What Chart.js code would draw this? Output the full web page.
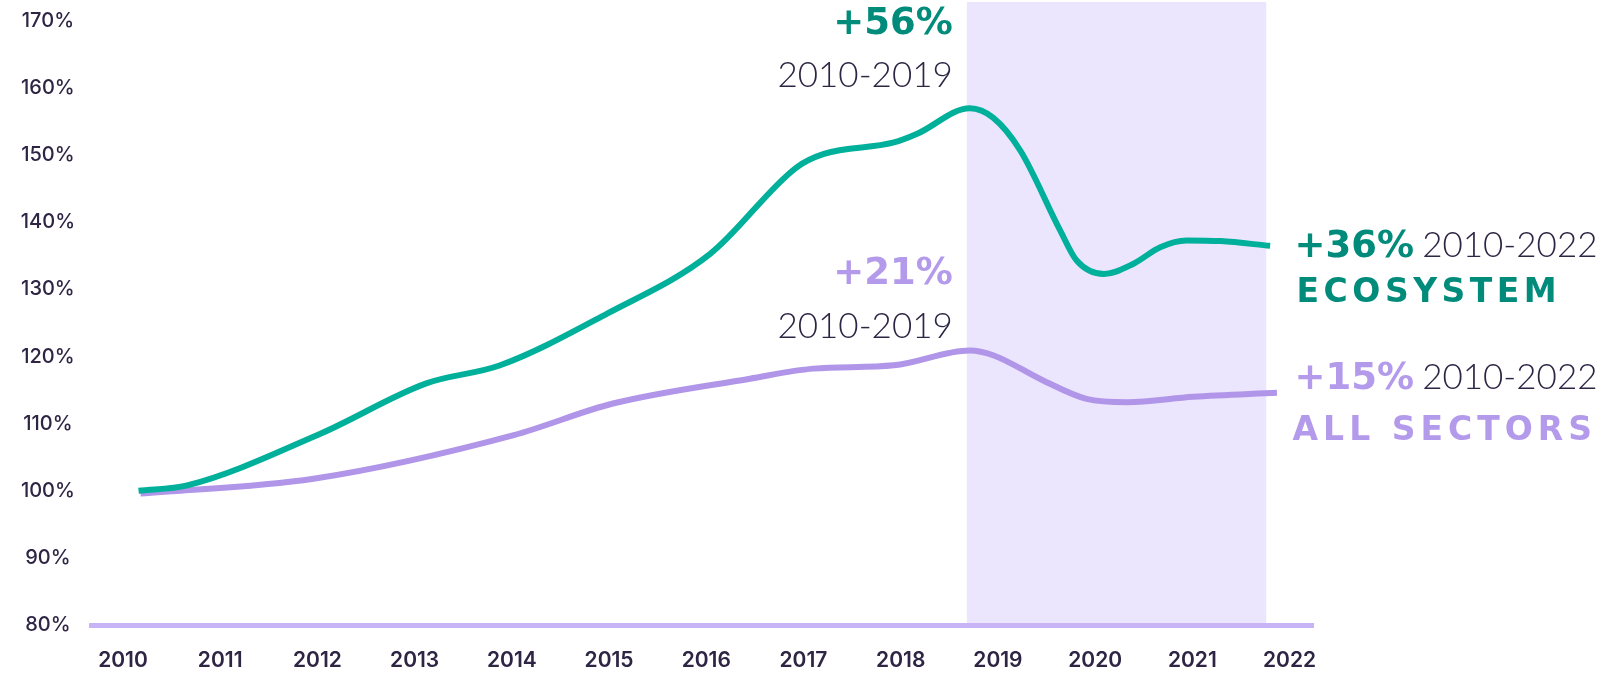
<!DOCTYPE html>
<html>
<head>
<meta charset="utf-8">
<script src="https://cdn.jsdelivr.net/npm/chart.js@4.4.1/dist/chart.umd.min.js"></script>
<style>
  html, body { margin: 0; padding: 0; background: #ffffff; }
  #wrap { width: 1614px; height: 677px; position: relative; }
</style>
</head>
<body>
<div id="wrap"><canvas id="c" width="1614" height="677"></canvas></div>
<script>
// ---- data ----
const yearTicks = [2010, 2011, 2012, 2013, 2014, 2015, 2016, 2017, 2018, 2019, 2020, 2021, 2022];
const percentTicks = [80, 90, 100, 110, 120, 130, 140, 150, 160, 170];

const ecosystemYears  = [2010.16, 2010.66, 2012.03, 2013.12, 2013.88, 2014.98, 2016.04, 2016.93, 2017.21, 2017.93, 2018.17, 2018.71, 2018.95, 2019.23, 2019.64, 2019.81, 2020.09, 2020.39, 2020.67, 2020.94, 2021.29, 2021.80];
const ecosystemValues = [100.0,   100.8,   108.5,   116.0,   118.7,   126.4,   135.3,   148.2,   150.2,   151.9,   153.2,   157.0,   155.6,   150.7,   138.8,   134.3,   132.3,   133.8,   136.3,   137.3,   137.2,   136.5];

const allSectorsYears  = [2010.18, 2011.96, 2014.02, 2015.04, 2016.45, 2017.10, 2017.93, 2018.71, 2018.95, 2019.47, 2019.91, 2020.33, 2021.01, 2021.87];
const allSectorsValues = [99.6,    101.8,   108.3,   113.0,   116.7,   118.2,   118.7,   120.9,   120.2,   116.4,   113.7,   113.2,   114.0,   114.6];

const shadedPeriod = [2018.68, 2021.76];

const notes = {
  ecoPeak: ['+56%', '2010-2019'],
  allPeak: ['+21%', '2010-2019'],
  ecoEnd: ['+36%', '2010-2022', 'ECOSYSTEM'],
  allEnd: ['+15%', '2010-2022', 'ALL SECTORS']
};

// ---- styles ----
const TEAL = '#00b09b', TEAL_TEXT = '#008b7b';
const LILAC = '#b095e8', LILAC_TEXT = '#b39aeb';
const DARK = '#2e2544';
const BOLD = 'bold 37px "DejaVu Sans"';
const LABEL = 'bold 33px "DejaVu Sans"';
const THIN = '300 35px Lato';

function pts(xs, ys) { return xs.map((x, i) => ({ x: x, y: ys[i] })); }

function txt(ctx, s, x, y, font, color, align, spacing) {
  ctx.save();
  ctx.font = font;
  ctx.fillStyle = color;
  ctx.textAlign = align || 'left';
  ctx.textBaseline = 'alphabetic';
  ctx.letterSpacing = (spacing || 0) + 'px';
  ctx.fillText(s, x, y);
  const w = ctx.measureText(s).width;
  ctx.restore();
  return w;
}

const decor = {
  id: 'decor',
  beforeDraw(chart) {
    const { ctx, chartArea, scales: { x } } = chart;
    const x0 = x.getPixelForValue(shadedPeriod[0]);
    const x1 = x.getPixelForValue(shadedPeriod[1]);
    ctx.save();
    ctx.fillStyle = '#ebe6fd';
    ctx.fillRect(x0, chartArea.top, x1 - x0, chartArea.bottom - chartArea.top);
    ctx.restore();
  },
  afterDraw(chart) {
    const { ctx, scales: { x, y } } = chart;
    // peak notes, right-aligned just left of the shaded band
    const rx = x.getPixelForValue(shadedPeriod[0]) - 14;
    const ecoPeakY = y.getPixelForValue(Math.max(...ecosystemValues));
    const allPeakY = y.getPixelForValue(Math.max(...allSectorsValues));
    txt(ctx, notes.ecoPeak[0], rx, ecoPeakY - 74, BOLD, TEAL_TEXT, 'right');
    txt(ctx, notes.ecoPeak[1], rx, ecoPeakY - 21, THIN, DARK, 'right');
    txt(ctx, notes.allPeak[0], rx, allPeakY - 67, BOLD, LILAC_TEXT, 'right');
    txt(ctx, notes.allPeak[1], rx, allPeakY - 13, THIN, DARK, 'right');

    // end notes
    const lx = x.getPixelForValue(2022) + 5;
    const ecoEndY = y.getPixelForValue(ecosystemValues[ecosystemValues.length - 1]);
    const allEndY = y.getPixelForValue(allSectorsValues[allSectorsValues.length - 1]);
    let w = txt(ctx, notes.ecoEnd[0], lx, ecoEndY + 11, BOLD, TEAL_TEXT, 'left');
    txt(ctx, notes.ecoEnd[1], lx + w + 8, ecoEndY + 11, THIN, DARK, 'left');
    txt(ctx, notes.ecoEnd[2], lx + 2, ecoEndY + 56, LABEL, TEAL_TEXT, 'left', 4.5);
    w = txt(ctx, notes.allEnd[0], lx, allEndY - 4, BOLD, LILAC_TEXT, 'left');
    txt(ctx, notes.allEnd[1], lx + w + 8, allEndY - 4, THIN, DARK, 'left');
    txt(ctx, notes.allEnd[2], lx - 2, allEndY + 47, LABEL, LILAC_TEXT, 'left', 5);
  }
};

new Chart(document.getElementById('c'), {
  type: 'line',
  data: {
    datasets: [
      { label: 'Ecosystem', data: pts(ecosystemYears, ecosystemValues), borderColor: TEAL, borderWidth: 6,
        pointRadius: 0, cubicInterpolationMode: 'monotone', fill: false, borderCapStyle: 'butt' },
      { label: 'All sectors', data: pts(allSectorsYears, allSectorsValues), borderColor: LILAC, borderWidth: 6,
        pointRadius: 0, cubicInterpolationMode: 'monotone', fill: false, borderCapStyle: 'butt' }
    ]
  },
  options: {
    responsive: false,
    animation: false,
    events: [],
    layout: { padding: { left: 0, right: 301, top: 2, bottom: 0 } },
    plugins: { legend: { display: false }, tooltip: { enabled: false } },
    scales: {
      x: {
        type: 'linear',
        min: 2009.671, max: 2022.241,
        afterBuildTicks: (s) => { s.ticks = yearTicks.map(v => ({ value: v })); },
        afterFit: (s) => { s.height = 52; s.paddingLeft = 0; s.paddingRight = 0; },
        grid: { display: false, drawTicks: false },
        border: { display: true, color: '#c7b3f6', width: 5 },
        ticks: {
          padding: 23,
          color: DARK,
          font: { family: 'Inter', size: 21, weight: '600' },
          callback: (v) => String(v),
          maxRotation: 0, autoSkip: false
        }
      },
      y: {
        min: 80, max: 172.83,
        afterBuildTicks: (s) => { s.ticks = percentTicks.map(v => ({ value: v })); },
        afterFit: (s) => { s.width = 91; s.paddingTop = 0; s.paddingBottom = 0; },
        grid: { display: false, drawTicks: false },
        border: { display: false },
        ticks: {
          padding: 16,
          crossAlign: 'center',
          color: DARK,
          font: { family: 'Inter', size: 20, weight: '500' },
          callback: (v) => v + '%'
        }
      }
    }
  },
  plugins: [decor]
});
</script>
</body>
</html>
